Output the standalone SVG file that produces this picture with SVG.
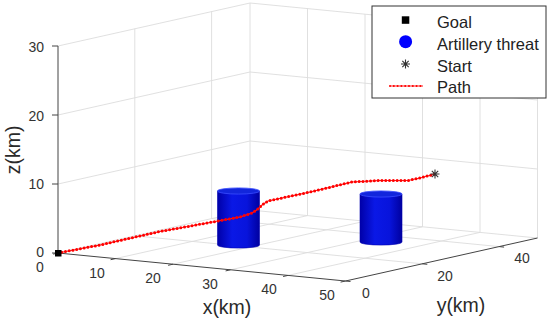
<svg xmlns="http://www.w3.org/2000/svg" width="550" height="323" viewBox="0 0 550 323">
<defs>
<style>
.grid{stroke:#dcdcdc;stroke-width:0.9;fill:none}
.ax{stroke:#444;stroke-width:1;fill:none}
.tk{font-family:"Liberation Sans",Arial,sans-serif;font-size:14px;fill:#333}
.lab{font-family:"Liberation Sans",Arial,sans-serif;font-size:19.5px;fill:#2a2a2a}
.leg{font-family:"Liberation Sans",Arial,sans-serif;font-size:16.5px;fill:#222}
.pathline{stroke:#ff2020;stroke-width:1.2;fill:none}
.pathdots{stroke:#ff0000;stroke-width:3;stroke-linecap:round;stroke-dasharray:0 3.8;fill:none}
.star{stroke:#333;stroke-width:1.1}
.cylbody{fill:url(#cylg);stroke:#0000b0;stroke-width:0.6}
.cyltop{fill:#1226dc;stroke:#3a4cff;stroke-width:0.8}
</style>
<linearGradient id="cylg" x1="0" y1="0" x2="1" y2="0">
<stop offset="0" stop-color="#0000a8"/>
<stop offset="0.35" stop-color="#0a18e6"/>
<stop offset="0.7" stop-color="#0814dc"/>
<stop offset="1" stop-color="#0000a0"/>
</linearGradient>
</defs>
<rect width="550" height="323" fill="#ffffff"/>

<g id="grid">
<path class="grid" d="M58,253 L250,210 M115.5,258.6 L307.5,215.6 M173,264.2 L365,221.2 M230.5,269.8 L422.5,226.8 M288,275.4 L480,232.4 M134.8,235.8 L422.3,263.8 M211.6,218.6 L499.1,246.6 M250,210 L537.5,238"/>
<path class="grid" d="M58,184 L250,141 M58,115 L250,72 M58,46 L250,3 M134.8,235.8 L134.8,28.8 M211.6,218.6 L211.6,11.6 M250,210 L250,3"/>
<path class="grid" d="M250,141 L537.5,169 M250,72 L537.5,100 M250,3 L537.5,31 M307.5,215.6 L307.5,8.6 M365,221.2 L365,14.2 M422.5,226.8 L422.5,19.8 M480,232.4 L480,25.4 M537.5,238 L537.5,31"/>
</g>

<g id="axes">
<path class="ax" d="M58,46 L58,253 M58,253 L345.5,281 M345.5,281 L537.5,238"/>
<path class="ax" d="M52,46 L58,46 M52,115 L58,115 M52,184 L58,184 M52,253 L58,253"/>
<path class="ax" d="M58,253 l-4.9,1.1 M115.5,258.6 l-4.9,1.1 M173,264.2 l-4.9,1.1 M230.5,269.8 l-4.9,1.1 M288,275.4 l-4.9,1.1 M345.5,281 l-4.9,1.1"/>
<path class="ax" d="M345.5,281 l5,0.5 M422.3,263.8 l5,0.5 M499.1,246.6 l5,0.5"/>
<g class="tk" text-anchor="end">
<text x="44" y="51.5">30</text>
<text x="44" y="120.5">20</text>
<text x="44" y="189">10</text>
<text x="44" y="257">0</text>
</g>
<g class="tk" text-anchor="middle">
<text x="40" y="272">0</text>
<text x="97" y="278">10</text>
<text x="153" y="283">20</text>
<text x="210" y="289">30</text>
<text x="269" y="294">40</text>
<text x="327" y="300">50</text>
<text x="366" y="298">0</text>
<text x="445" y="281">20</text>
<text x="522" y="263">40</text>
</g>
<text class="lab" x="227" y="314" text-anchor="middle">x(km)</text>
<text class="lab" x="461" y="312" text-anchor="middle">y(km)</text>
<text class="lab" x="20" y="150" text-anchor="middle" transform="rotate(-90 20 150)">z(km)</text>
</g>

<g id="threat1">
<path class="cylbody" d="M217.5,191 L217.5,245 A21,3.1 0 0 0 259.5,245 L259.5,191 Z"/>
<ellipse class="cyltop" cx="238.5" cy="191" rx="21" ry="3.1"/>
</g>
<g id="threat2">
<path class="cylbody" d="M360,194 L360,242 A21,3.1 0 0 0 402,242 L402,194 Z"/>
<ellipse class="cyltop" cx="381" cy="194" rx="21" ry="3.1"/>
</g>

<g id="path">
<polyline class="pathline" points="58,253 100,245 160,231.5 218,221 240,217 252,213 258,209 262,205 268,201 310,192 352,182 380,180.5 408,180.5 420,178 435,174"/>
<polyline class="pathdots" points="58,253 100,245 160,231.5 218,221 240,217 252,213 258,209 262,205 268,201 310,192 352,182 380,180.5 408,180.5 420,178 435,174"/>
</g>

<g id="goal">
<rect x="55" y="250" width="6.5" height="6.5" fill="#000"/>
</g>
<g id="start" class="star">
<path d="M430.5,174 L439.5,174 M435,169.5 L435,178.5 M431.8,170.8 L438.2,177.2 M431.8,177.2 L438.2,170.8"/>
</g>

<g id="legend">
<rect x="372" y="6" width="174" height="92" fill="#ffffff" stroke="#333" stroke-width="1"/>
<rect x="401.8" y="16.3" width="7.5" height="7.5" fill="#000"/>
<circle cx="405.6" cy="41.7" r="6.5" fill="#0000ff"/>
<path class="star" d="M401,64 L410,64 M405.5,59.5 L405.5,68.5 M402.3,60.8 L408.7,67.2 M402.3,67.2 L408.7,60.8"/>
<line class="pathline" x1="390" y1="86" x2="423" y2="86"/>
<line class="pathdots" x1="390" y1="86" x2="423" y2="86" style="stroke-width:2"/>
<text class="leg" x="437" y="27.5">Goal</text>
<text class="leg" x="437" y="49.5">Artillery threat</text>
<text class="leg" x="437" y="71.5">Start</text>
<text class="leg" x="437" y="93">Path</text>
</g>
</svg>
